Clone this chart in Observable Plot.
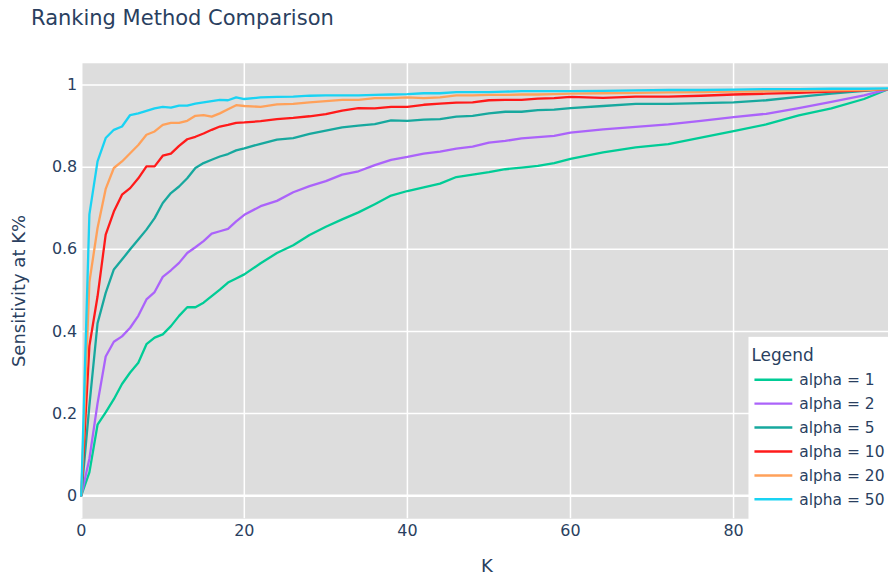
<!DOCTYPE html>
<html>
<head>
<meta charset="utf-8">
<script src="https://cdn.jsdelivr.net/npm/d3@7"></script>
<script src="https://cdn.jsdelivr.net/npm/@observablehq/plot@0.6"></script>
<style>
  html, body { margin: 0; padding: 0; background: #fff; overflow: hidden; }
  #wrap { position: relative; width: 888px; height: 577px; overflow: hidden; }
  .lbl { position: absolute; font-family: "DejaVu Sans", Verdana, sans-serif; color: #2a3f5f; white-space: nowrap; }
</style>
</head>
<body>
<div id="wrap">
  <div id="chart"></div>
  <div class="lbl" id="title" style="left:31px; top:6px; font-size:21px;">Ranking Method Comparison</div>
  <div class="lbl" id="ytitle" style="left:18px; top:291px; font-size:18px; transform: translate(-50%,-50%) rotate(-90deg);">Sensitivity at K%</div>
  <div class="lbl" id="xtitle" style="left:487px; top:565px; font-size:18px; transform: translate(-50%,-50%);">K</div>
</div>
<script>
// ---- data ----
const K = [0,1,2,3,4,5,6,7,8,9,10,11,12,13,14,15,16,17,18,19,20,
  22,24,26,28,30,32,34,36,38,40,42,44,46,48,50,52,54,56,58,60,
  64,68,72,76,80,84,88,92,96,99];

const alpha1 = [0,0.057,0.173,0.203,0.235,0.272,0.300,0.324,0.369,0.385,0.393,0.413,0.438,0.459,0.459,0.470,0.486,0.502,0.519,0.529,0.539,
  0.566,0.591,0.610,0.635,0.655,0.673,0.690,0.710,0.731,0.742,0.751,0.760,0.776,0.782,0.788,0.795,0.799,0.803,0.810,0.820,
  0.836,0.848,0.856,0.872,0.888,0.904,0.926,0.943,0.966,0.990];

const alpha2 = [0,0.090,0.225,0.339,0.375,0.388,0.409,0.438,0.478,0.496,0.533,0.549,0.567,0.591,0.605,0.620,0.638,0.644,0.650,0.668,0.684,
  0.705,0.718,0.739,0.754,0.766,0.782,0.790,0.805,0.818,0.825,0.833,0.838,0.845,0.850,0.860,0.864,0.870,0.873,0.876,0.884,
  0.892,0.898,0.904,0.913,0.922,0.930,0.944,0.959,0.975,0.990];

const alpha5 = [0,0.220,0.420,0.494,0.551,0.575,0.600,0.624,0.648,0.676,0.713,0.737,0.753,0.773,0.798,0.810,0.818,0.826,0.832,0.841,0.846,
  0.857,0.867,0.871,0.881,0.889,0.897,0.901,0.905,0.914,0.913,0.916,0.917,0.923,0.925,0.931,0.935,0.935,0.939,0.940,0.944,
  0.949,0.954,0.954,0.956,0.958,0.963,0.971,0.979,0.986,0.990];

const alpha10 = [0,0.365,0.485,0.636,0.692,0.733,0.749,0.773,0.802,0.802,0.828,0.833,0.852,0.868,0.874,0.882,0.891,0.899,0.903,0.908,0.909,
  0.912,0.917,0.920,0.924,0.929,0.938,0.944,0.943,0.947,0.947,0.952,0.955,0.957,0.958,0.963,0.964,0.964,0.967,0.968,0.971,
  0.969,0.972,0.972,0.974,0.977,0.979,0.981,0.984,0.987,0.990];

const alpha20 = [0,0.520,0.652,0.747,0.798,0.814,0.834,0.854,0.879,0.887,0.903,0.908,0.908,0.913,0.925,0.927,0.923,0.931,0.941,0.951,0.949,
  0.947,0.953,0.954,0.958,0.961,0.964,0.964,0.968,0.968,0.970,0.968,0.970,0.975,0.975,0.976,0.976,0.977,0.977,0.978,0.979,
  0.980,0.981,0.982,0.983,0.984,0.985,0.986,0.987,0.988,0.990];

const alpha50 = [0,0.685,0.814,0.871,0.891,0.899,0.927,0.931,0.937,0.943,0.947,0.945,0.950,0.950,0.955,0.958,0.961,0.964,0.963,0.970,0.966,
  0.970,0.971,0.972,0.974,0.975,0.975,0.975,0.976,0.977,0.978,0.980,0.980,0.983,0.983,0.983,0.984,0.985,0.985,0.985,0.985,
  0.986,0.987,0.988,0.988,0.989,0.990,0.990,0.991,0.991,0.992];

const seriesNames = ["alpha = 1", "alpha = 2", "alpha = 5", "alpha = 10", "alpha = 20", "alpha = 50"];
const seriesValues = [alpha1, alpha2, alpha5, alpha10, alpha20, alpha50];
const colors = ["#00cc96", "#ab63fa", "#17a89e", "#ff1a1a", "#ffa15a", "#19d3f3"];

const xTicks = [0, 20, 40, 60, 80];
const yTicks = [0, 0.2, 0.4, 0.6, 0.8, 1];

// ---- build table ----
const rows = [];
seriesNames.forEach((name, i) => {
  K.forEach((k, j) => rows.push({series: name, k, v: seriesValues[i][j]}));
});

const font = '"DejaVu Sans", Verdana, sans-serif';

const chart = Plot.plot({
  width: 891,
  height: 577,
  marginLeft: 81,
  marginRight: 0,
  marginTop: 63,
  marginBottom: 57,
  style: {background: "white", fontFamily: font, fontSize: "16px", color: "#2a3f5f", overflow: "visible"},
  x: {domain: [0, 99], label: null},
  y: {domain: [-0.056, 1.053], label: null},
  color: {domain: seriesNames, range: colors},
  marks: [
    Plot.frame({fill: "#dddddd", stroke: null}),
    Plot.gridX(xTicks, {stroke: "white", strokeOpacity: 1, strokeWidth: 1.5}),
    Plot.gridY(yTicks, {stroke: "white", strokeOpacity: 1, strokeWidth: 1.5}),
    Plot.ruleY([0], {stroke: "white", strokeWidth: 2.5}),
    Plot.ruleX([0], {stroke: "white", strokeWidth: 2.5}),
    ...seriesNames.map((name) =>
      Plot.line(rows.filter(d => d.series === name), {x: "k", y: "v", stroke: "series", strokeWidth: 2.3, strokeLinejoin: "round"})
    ),
    Plot.axisX({ticks: xTicks, tickSize: 0, tickPadding: 6, label: null, fontSize: 16, fill: "#2a3f5f"}),
    Plot.axisY({ticks: yTicks, tickSize: 0, tickPadding: 4, label: null, fontSize: 16, fill: "#2a3f5f", tickFormat: d3.format("~g")})
  ]
});
document.getElementById("chart").appendChild(chart);

const svg = d3.select(chart);
svg.selectAll('g[aria-label$="tick label"]').attr("font-size", 16).attr("font-family", font);

// ---- legend overlay (plotly style, inside the figure) ----
const lg = svg.append("g").attr("font-family", font).attr("fill", "#2a3f5f").attr("text-anchor", "start");
lg.append("rect").attr("x", 751).attr("y", 338).attr("width", 140).attr("height", 240).attr("fill", "white");
lg.append("text").attr("x", 754).attr("y", 362).attr("font-size", 17).attr("text-anchor", "start").text("Legend");
seriesNames.forEach((name, i) => {
  const y = 381 + i * 24;
  lg.append("line").attr("x1", 757).attr("x2", 795).attr("y1", y).attr("y2", y)
    .attr("stroke", colors[i]).attr("stroke-width", 2.5);
  lg.append("text").attr("x", 802).attr("y", y + 5.5).attr("font-size", 15.5).attr("text-anchor", "start").text(name);
});
</script>
</body>
</html>
